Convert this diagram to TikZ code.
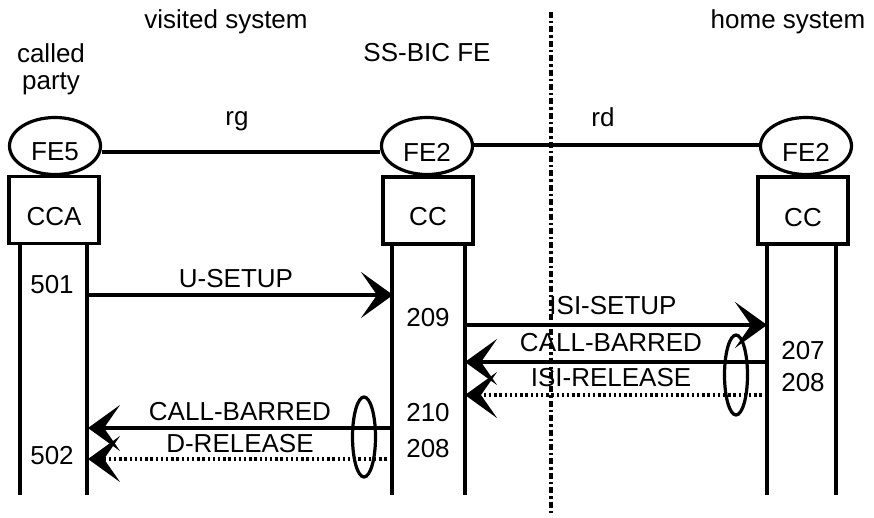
\documentclass[tikz,border=0pt]{standalone}
\usepackage{fontspec}
\setmainfont{Liberation Sans}
\usetikzlibrary{shapes.geometric,arrows.meta}
\begin{document}
\begin{tikzpicture}[x=1pt,y=-1pt,
  every node/.style={font=\fontsize{26}{30}\selectfont, inner sep=0pt},
  fe/.style={draw, ellipse, line width=3.2pt, minimum width=91pt, minimum height=57pt},
  fbox/.style={draw, rectangle, line width=3.2pt, minimum width=90pt, minimum height=67pt},
  life/.style={line width=3.6pt},
  tip/.style={-{Stealth[length=32pt,width=46pt,inset=16pt]}},
  msg/.style={line width=3.6pt, tip},
  dmsg/.style={line width=3.2pt, dash pattern=on 2.4pt off 2.8pt, tip},
  grp/.style={draw, ellipse, line width=3.2pt, minimum width=23pt, minimum height=80pt}
]
\useasboundingbox (0,0) rectangle (874,518);
% boundary
\coordinate (bt) at (551,12);
\coordinate (bb) at (551,515);
\draw[line width=3.6pt, dash pattern=on 6pt off 3pt on 2.4pt off 3pt] (bt) -- (bb);
% headings
\node (vis) at (226,22) {visited system};
\node (home) at (788,22) {home system};
\node (cp1) at (51,53) {called};
\node (cp2) at (51,84) {party};
\node (ssbic) at (427,53) {SS-BIC FE};
\node (rg) at (237,121) {rg};
\node (rd) at (603,117) {rd};
% FEs
\node[fe] (fe5) at (55,146) {};
\node[fe] (fe2a) at (427,146) {};
\node[fe] (fe2b) at (806,146) {};
\node (t5) at (55,152) {FE5};
\node (t2a) at (427,152) {FE2};
\node (t2b) at (806,152) {FE2};
\draw[line width=3.2pt] ([yshift=-6pt]fe5.east) -- ([yshift=-6pt]fe2a.west);
\draw[line width=3.2pt] ([yshift=1pt]fe2a.east) -- ([yshift=1pt]fe2b.west);
% boxes
\node[fbox] (cca) at (54,210) {};
\node[fbox] (cc1) at (428,210.5) {};
\node[fbox] (cc2) at (803,210.5) {};
\node (tcca) at (54,217) {CCA};
\node (tcc1) at (428,217) {CC};
\node (tcc2) at (803,218) {CC};
% lifelines
\coordinate (a1t) at (20,243); \coordinate (a1b) at (20,495);
\coordinate (a2t) at (87,243); \coordinate (a2b) at (87,495);
\coordinate (b1t) at (392,244); \coordinate (b1b) at (392,495);
\coordinate (b2t) at (465,244); \coordinate (b2b) at (465,495);
\coordinate (c1t) at (767,244); \coordinate (c1b) at (767,495);
\coordinate (c2t) at (836,244); \coordinate (c2b) at (836,495);
\foreach \n in {a1,a2,b1,b2,c1,c2} \draw[life] (\n t) -- (\n b);
% message points
\coordinate (m1s) at (87,295); \coordinate (m1e) at (393,295);
\coordinate (m2s) at (465,325); \coordinate (m2e) at (767,325);
\coordinate (m3s) at (767,362); \coordinate (m3e) at (465,362);
\coordinate (m4s) at (767,395); \coordinate (m4e) at (465,395);
\coordinate (m5s) at (392,428); \coordinate (m5e) at (88,428);
\coordinate (m6s) at (392,459); \coordinate (m6e) at (88,459);
\draw[msg] (m1s) -- (m1e);
\draw[msg] (m2s) -- (m2e);
\draw[msg] (m3s) -- (m3e);
\draw[dmsg] (m4s) -- (m4e);
\draw[msg] (m5s) -- (m5e);
\draw[dmsg] (m6s) -- (m6e);
% labels
\node (l1) at (236,279) {U-SETUP};
\node (l2) at (613,306) {ISI-SETUP};
\node (l3) at (611,343) {CALL-BARRED};
\node (l4) at (611,378) {ISI-RELEASE};
\node (l5) at (240,412) {CALL-BARRED};
\node (l6) at (240,444) {D-RELEASE};
\node (n501) at (52,285) {501};
\node (n209) at (428,318) {209};
\node (n207) at (803,351) {207};
\node (n208a) at (803,383) {208};
\node (n210) at (428,413) {210};
\node (n208b) at (428,449) {208};
\node (n502) at (52,456) {502};
% groupings
\node[grp] (g1) at (736,375) {};
\node[grp] (g2) at (364,437) {};
\end{tikzpicture}
\end{document}
